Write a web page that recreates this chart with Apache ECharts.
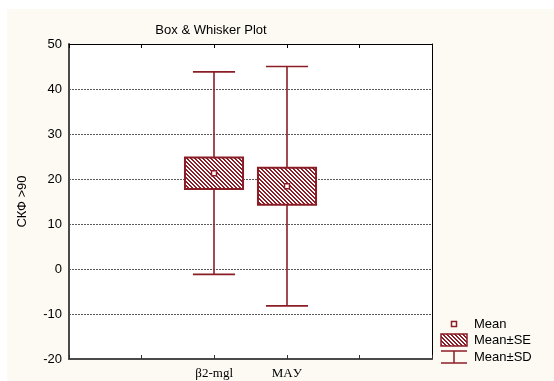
<!DOCTYPE html>
<html>
<head>
<meta charset="utf-8">
<script src="https://cdn.jsdelivr.net/npm/echarts@6/dist/echarts.min.js"></script>
<style>
  html, body { margin: 0; padding: 0; background: #ffffff; }
  #frame { position: absolute; left: 7px; top: 9px; width: 547px; height: 372px; background: #fdfaf3; }
  #chart { position: absolute; left: 0; top: 0; width: 554px; height: 381px; }
</style>
</head>
<body>
<div id="frame"></div>
<div id="chart"></div>
<script>
// Groups shown on the horizontal axis and their slot positions (0..5 scale)
var categories = ['β2-mgl', 'MAУ'];
var slots = [2, 3];
// Summary statistics per group
var means = [21.3, 18.4];
var stdErrors = [3.5, 4.1];
var stdDevs = [22.5, 26.6];
// Vertical axis ticks
var yMin = -20, yMax = 50, yStep = 10;

var RED = '#8b1d27';

// Diagonal hatch used for the Mean±SE boxes
function hatchCanvas() {
  var c = document.createElement('canvas');
  c.width = 4; c.height = 4;
  var g = c.getContext('2d');
  g.fillStyle = '#ffffff';
  g.fillRect(0, 0, 4, 4);
  g.fillStyle = RED;
  for (var i = 0; i < 4; i++) {
    g.fillRect(i, i, 1, 1);
    g.fillRect((i + 1) % 4, i, 1, 1);
  }
  return c;
}
var hatch = { image: hatchCanvas(), repeat: 'repeat' };

var boxData = categories.map(function (name, i) {
  return [slots[i], means[i], means[i] - stdErrors[i], means[i] + stdErrors[i],
          means[i] - stdDevs[i], means[i] + stdDevs[i]];
});

function renderBox(params, api) {
  var x = api.value(0);
  var slot = api.size([1, 0])[0];
  var pMean = api.coord([x, api.value(1)]);
  var pSeLo = api.coord([x, api.value(2)]);
  var pSeHi = api.coord([x, api.value(3)]);
  var pSdLo = api.coord([x, api.value(4)]);
  var pSdHi = api.coord([x, api.value(5)]);
  var bw = slot * 0.8, cw = slot * 0.58;
  var cx = Math.round(pMean[0]);
  var line = { stroke: RED, lineWidth: 1.6 };
  return {
    type: 'group',
    children: [
      { type: 'line', shape: { x1: cx, y1: pSdHi[1], x2: cx, y2: pSdLo[1] }, style: line },
      { type: 'line', shape: { x1: cx - cw / 2, y1: pSdHi[1], x2: cx + cw / 2, y2: pSdHi[1] }, style: line },
      { type: 'line', shape: { x1: cx - cw / 2, y1: pSdLo[1], x2: cx + cw / 2, y2: pSdLo[1] }, style: line },
      { type: 'rect', shape: { x: cx - bw / 2, y: pSeHi[1], width: bw, height: pSeLo[1] - pSeHi[1] },
        style: { fill: hatch, stroke: RED, lineWidth: 2 } },
      { type: 'rect', shape: { x: cx - 2.5, y: pMean[1] - 2.5, width: 5, height: 5 },
        style: { fill: '#ffffff', stroke: RED, lineWidth: 1.5 } }
    ]
  };
}

var textFont = 'Liberation Sans, Arial, sans-serif';
var chart = echarts.init(document.getElementById('chart'), null, { renderer: 'canvas' });
chart.setOption({
  backgroundColor: 'transparent',
  animation: false,
  title: {
    text: 'Box & Whisker Plot',
    left: 206, top: 19, textAlign: 'center',
    textStyle: { fontFamily: textFont, fontSize: 13, fontWeight: 'normal', color: '#000' }
  },
  grid: { left: 69, right: 122, top: 44, bottom: 22, containLabel: false,
          show: true, backgroundColor: '#ffffff', borderWidth: 0 },
  xAxis: [{
    type: 'value', min: 0, max: 5, interval: 1, position: 'bottom',
    axisLine: { onZero: false, lineStyle: { color: '#4a4a4a', width: 2 } },
    axisTick: { inside: true, length: 4, lineStyle: { color: '#333' } },
    splitLine: { show: false },
    axisLabel: {
      margin: 8, fontFamily: 'Liberation Serif, Times New Roman, serif', fontSize: 13, color: '#000',
      formatter: function (v) { var k = slots.indexOf(v); return k >= 0 ? categories[k] : ''; }
    }
  }, {
    type: 'value', min: 0, max: 5, interval: 1, position: 'top',
    axisLine: { onZero: false, lineStyle: { color: '#000', width: 1 } },
    axisTick: { inside: true, length: 4, lineStyle: { color: '#000' } },
    axisLabel: { show: false }, splitLine: { show: false }
  }],
  yAxis: [{
    type: 'value', min: yMin, max: yMax, interval: yStep, position: 'left',
    name: 'СКФ >90', nameLocation: 'middle', nameGap: 40,
    nameTextStyle: { fontFamily: textFont, fontSize: 13, color: '#000' },
    axisLine: { show: true, onZero: false, lineStyle: { color: '#4a4a4a', width: 2 } },
    axisTick: { show: false },
    axisLabel: { margin: 7, fontFamily: textFont, fontSize: 13, color: '#000' },
    splitLine: { show: true, lineStyle: { color: '#5a5a5a', type: [2, 1], width: 1 } }
  }, {
    type: 'value', min: yMin, max: yMax, interval: yStep, position: 'right',
    axisLine: { show: true, onZero: false, lineStyle: { color: '#000', width: 1 } },
    axisTick: { show: false }, axisLabel: { show: false }, splitLine: { show: false }
  }],
  series: [{
    type: 'custom',
    renderItem: renderBox,
    data: boxData,
    encode: { x: 0, y: [1, 2, 3, 4, 5] },
    clip: false
  }],
  graphic: [
    // key: Mean
    { type: 'rect', shape: { x: 451.5, y: 321.5, width: 5, height: 5 }, style: { fill: '#fff', stroke: RED, lineWidth: 1.5 } },
    { type: 'text', x: 474, y: 324, style: { text: 'Mean', font: '13px ' + textFont, fill: '#000', textVerticalAlign: 'middle' } },
    // key: Mean±SE
    { type: 'rect', shape: { x: 441, y: 334, width: 26, height: 12 }, style: { fill: hatch, stroke: RED, lineWidth: 1.5 } },
    { type: 'text', x: 474, y: 340, style: { text: 'Mean±SE', font: '13px ' + textFont, fill: '#000', textVerticalAlign: 'middle' } },
    // key: Mean±SD
    { type: 'line', shape: { x1: 441, y1: 351, x2: 467, y2: 351 }, style: { stroke: RED, lineWidth: 1.5 } },
    { type: 'line', shape: { x1: 454, y1: 351, x2: 454, y2: 363 }, style: { stroke: RED, lineWidth: 1.5 } },
    { type: 'line', shape: { x1: 441, y1: 363, x2: 467, y2: 363 }, style: { stroke: RED, lineWidth: 1.5 } },
    { type: 'text', x: 474, y: 357, style: { text: 'Mean±SD', font: '13px ' + textFont, fill: '#000', textVerticalAlign: 'middle' } }
  ]
});
</script>
</body>
</html>
